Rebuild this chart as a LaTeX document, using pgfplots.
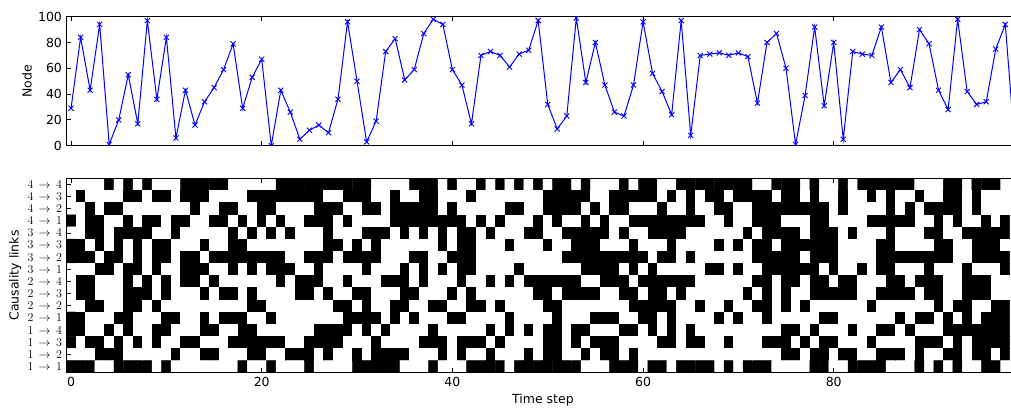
\documentclass[border=0pt]{standalone}
\usepackage[no-math]{fontspec}
\setmainfont{DejaVu Sans}
\usepackage{pgfplots}
\pgfplotsset{compat=1.18}

\newcommand{\lnk}[2]{$#1\,\rightarrow\,#2$}

\pgfplotsset{
  panel/.style={
    scale only axis,
    width=944.7pt,
    xmin=-0.5, xmax=98.6,
    axis x line=box, axis y line=left,
    axis line style={-, line width=1pt, black},
    tick align=inside, major tick length=4.5pt,
    tick style={black, line width=0.8pt},
    xtick={0,20,40,60,80},
    tick label style={font=\fontsize{12.5}{15}\selectfont},
    label style={font=\fontsize{12.5}{15}\selectfont},
    /pgf/number format/assume math mode=true,
  },
}

\begin{document}
\fontsize{12.5}{15}\selectfont
\begin{tikzpicture}
% node sequence over time
\begin{axis}[panel,
  at={(0,0)}, anchor=south west,
  height=129pt,
  ymin=0, ymax=100,
  ytick={0,20,40,60,80,100},
  xticklabels={},
  ylabel={Node},
  ylabel style={at={(axis description cs:0,0.5)}, anchor=center, yshift=39.3pt},
  clip marker paths=true,
]
\addplot[blue, line width=1pt, mark=x, mark size=3.6pt,
  mark options={solid, line width=0.9pt}] coordinates {
(0,29) (1,84) (2,43) (3,94) (4,1) (5,20) (6,55) (7,17) (8,97) (9,36)
(10,84) (11,6) (12,43) (13,16) (14,34) (15,45) (16,59) (17,79) (18,29) (19,53)
(20,67) (21,0) (22,43) (23,26) (24,5) (25,12) (26,16) (27,10) (28,36) (29,96)
(30,50) (31,3) (32,19) (33,73) (34,83) (35,51) (36,59) (37,87) (38,98) (39,94)
(40,59) (41,47) (42,17) (43,70) (44,73) (45,70) (46,61) (47,71) (48,74) (49,97)
(50,32) (51,13) (52,23) (53,99) (54,49) (55,80) (56,47) (57,26) (58,23) (59,47)
(60,96) (61,56) (62,42) (63,24) (64,97) (65,8) (66,70) (67,71) (68,72) (69,70)
(70,72) (71,69) (72,33) (73,80) (74,87) (75,60) (76,1) (77,39) (78,92) (79,31)
(80,80) (81,5) (82,73) (83,71) (84,70) (85,92) (86,49) (87,59) (88,45) (89,90)
(90,79) (91,43) (92,28) (93,98) (94,42) (95,32) (96,34) (97,75) (98,94) (99,0)
};
\end{axis}

% active causality links: one row per link, one column per time step
\begin{axis}[panel,
  at={(0,-32.6pt)}, anchor=north west,
  height=194.4pt,
  ymin=-0.5, ymax=15.5, y dir=reverse,
  axis on top,
  ytick={0,...,15},
  yticklabels={\lnk44,\lnk43,\lnk42,\lnk41,\lnk34,\lnk33,\lnk32,\lnk31,
    \lnk24,\lnk23,\lnk22,\lnk21,\lnk14,\lnk13,\lnk12,\lnk11},
  colormap={bw}{color=(white) color=(black)},
  point meta min=0, point meta max=1,
  xlabel={Time step},
  xlabel style={at={(axis description cs:0.5045,0)}, anchor=center, yshift=-27.3pt},
  ylabel={Causality links},
  ylabel style={at={(axis description cs:0,0.5)}, anchor=center, yshift=51pt},
]
\addplot[matrix plot*, mesh/cols=100, mesh/rows=16, point meta=explicit]
  table[header=false, row sep=\\, meta index=0,
    x expr={\coordindex-100*floor((\coordindex+0.5)/100)},
    y expr={floor((\coordindex+0.5)/100)}] {
0\\0\\0\\0\\1\\0\\1\\0\\1\\0\\ 0\\0\\1\\1\\1\\1\\1\\0\\0\\0\\ 0\\0\\1\\1\\1\\1\\1\\1\\1\\1\\ 1\\1\\0\\0\\0\\0\\1\\1\\1\\0\\ 1\\0\\0\\1\\0\\1\\0\\1\\0\\1\\ 0\\1\\1\\0\\1\\0\\0\\0\\1\\0\\ 1\\1\\0\\0\\1\\1\\1\\1\\1\\1\\ 1\\1\\0\\0\\1\\1\\1\\0\\1\\0\\ 0\\1\\0\\1\\1\\1\\1\\1\\1\\0\\ 0\\0\\1\\1\\0\\1\\1\\1\\0\\0\\
0\\1\\0\\0\\0\\0\\1\\1\\0\\1\\ 1\\0\\1\\1\\1\\0\\0\\0\\0\\1\\ 1\\1\\1\\1\\1\\1\\1\\0\\0\\1\\ 1\\1\\0\\0\\1\\0\\0\\1\\1\\0\\ 0\\0\\1\\0\\0\\0\\0\\0\\0\\0\\ 1\\1\\1\\1\\1\\0\\0\\1\\1\\1\\ 1\\1\\0\\1\\0\\1\\0\\1\\1\\0\\ 1\\1\\1\\1\\0\\1\\1\\0\\1\\0\\ 0\\1\\0\\0\\1\\0\\1\\0\\0\\1\\ 0\\0\\1\\1\\0\\1\\0\\0\\0\\0\\
0\\0\\1\\0\\1\\1\\0\\0\\0\\0\\ 0\\0\\0\\1\\0\\0\\1\\1\\0\\0\\ 1\\1\\0\\0\\0\\0\\1\\1\\1\\0\\ 0\\1\\1\\0\\1\\1\\1\\1\\1\\0\\ 1\\0\\0\\0\\0\\0\\1\\1\\0\\0\\ 1\\1\\1\\1\\0\\1\\0\\1\\1\\0\\ 0\\0\\1\\0\\0\\1\\0\\0\\1\\1\\ 0\\0\\1\\1\\1\\1\\1\\1\\1\\1\\ 0\\1\\0\\0\\0\\0\\1\\0\\1\\0\\ 1\\1\\1\\1\\0\\1\\0\\0\\0\\0\\
1\\0\\1\\1\\0\\0\\1\\0\\1\\1\\ 0\\1\\1\\0\\0\\1\\1\\0\\1\\0\\ 1\\0\\1\\0\\0\\1\\1\\1\\0\\1\\ 0\\0\\0\\0\\1\\1\\1\\1\\1\\1\\ 1\\1\\0\\1\\0\\1\\0\\0\\0\\1\\ 0\\1\\0\\0\\1\\0\\1\\0\\0\\1\\ 1\\1\\1\\1\\1\\1\\1\\0\\0\\1\\ 0\\0\\1\\1\\1\\0\\0\\0\\1\\1\\ 0\\0\\0\\0\\1\\1\\1\\1\\1\\0\\ 0\\1\\0\\1\\0\\0\\1\\0\\1\\0\\
0\\0\\1\\1\\0\\1\\1\\1\\1\\0\\ 0\\1\\0\\0\\0\\0\\0\\1\\0\\1\\ 0\\1\\0\\1\\0\\0\\0\\1\\0\\0\\ 0\\1\\1\\1\\0\\1\\0\\1\\0\\1\\ 0\\1\\1\\0\\1\\0\\0\\0\\1\\1\\ 0\\0\\1\\1\\1\\1\\1\\0\\1\\0\\ 0\\1\\1\\1\\1\\0\\0\\0\\0\\0\\ 0\\1\\0\\1\\1\\1\\1\\0\\1\\1\\ 1\\0\\1\\0\\0\\0\\1\\0\\0\\0\\ 1\\1\\0\\0\\1\\1\\1\\1\\1\\0\\
1\\1\\0\\1\\0\\1\\0\\1\\0\\1\\ 1\\0\\0\\0\\1\\0\\0\\1\\1\\0\\ 0\\0\\0\\0\\0\\0\\0\\1\\1\\0\\ 1\\0\\1\\0\\0\\0\\0\\0\\0\\1\\ 0\\1\\1\\0\\0\\0\\1\\0\\0\\0\\ 1\\0\\0\\1\\1\\1\\0\\0\\0\\1\\ 0\\0\\0\\1\\0\\0\\0\\0\\1\\0\\ 1\\0\\1\\1\\0\\1\\1\\1\\1\\1\\ 1\\0\\0\\0\\0\\1\\1\\0\\0\\0\\ 0\\1\\1\\0\\0\\1\\1\\1\\0\\0\\
1\\1\\1\\0\\1\\1\\0\\1\\0\\1\\ 1\\0\\1\\1\\0\\1\\1\\1\\1\\1\\ 1\\1\\1\\0\\0\\1\\1\\1\\0\\1\\ 1\\1\\1\\0\\0\\0\\1\\1\\0\\0\\ 1\\1\\1\\0\\0\\0\\0\\0\\0\\0\\ 0\\0\\1\\1\\1\\1\\1\\1\\1\\1\\ 1\\0\\1\\1\\0\\1\\0\\0\\0\\0\\ 0\\0\\1\\1\\1\\1\\1\\0\\1\\1\\ 1\\0\\0\\0\\0\\1\\1\\1\\1\\1\\ 1\\1\\1\\0\\0\\1\\1\\1\\1\\0\\
0\\0\\0\\1\\1\\0\\1\\1\\0\\1\\ 0\\0\\1\\1\\1\\0\\0\\1\\0\\1\\ 0\\1\\1\\1\\0\\0\\1\\0\\0\\0\\ 0\\1\\0\\0\\0\\1\\0\\1\\0\\1\\ 0\\1\\1\\0\\0\\0\\0\\1\\0\\0\\ 0\\0\\0\\0\\1\\1\\1\\1\\0\\1\\ 0\\1\\0\\0\\0\\0\\0\\1\\1\\0\\ 1\\0\\0\\1\\1\\1\\1\\1\\1\\0\\ 1\\0\\0\\1\\0\\1\\1\\0\\0\\0\\ 1\\0\\0\\0\\1\\0\\0\\0\\1\\0\\
0\\1\\1\\0\\0\\0\\1\\0\\1\\0\\ 1\\0\\1\\1\\0\\1\\0\\0\\0\\0\\ 0\\0\\1\\0\\1\\1\\1\\0\\0\\1\\ 0\\0\\0\\1\\1\\1\\0\\1\\0\\0\\ 0\\1\\0\\0\\1\\0\\1\\0\\1\\1\\ 1\\1\\1\\1\\0\\0\\1\\1\\1\\0\\ 1\\1\\1\\1\\1\\1\\0\\0\\0\\0\\ 0\\0\\1\\1\\0\\1\\1\\0\\1\\1\\ 0\\1\\1\\0\\0\\0\\1\\1\\0\\1\\ 1\\1\\0\\0\\1\\1\\1\\0\\0\\0\\
0\\1\\1\\0\\0\\0\\1\\1\\1\\0\\ 1\\0\\0\\0\\1\\0\\1\\1\\0\\1\\ 0\\0\\0\\0\\1\\1\\0\\1\\0\\0\\ 1\\1\\0\\0\\0\\1\\1\\0\\0\\0\\ 1\\0\\1\\0\\0\\0\\0\\0\\0\\1\\ 1\\0\\1\\1\\1\\1\\0\\0\\1\\1\\ 0\\1\\1\\0\\1\\0\\0\\0\\0\\0\\ 0\\1\\0\\1\\0\\1\\0\\0\\1\\1\\ 1\\1\\1\\0\\0\\1\\1\\1\\1\\0\\ 1\\1\\0\\0\\1\\1\\1\\0\\0\\0\\
0\\0\\1\\1\\0\\0\\1\\1\\0\\1\\ 0\\0\\0\\0\\0\\0\\0\\0\\0\\1\\ 1\\0\\0\\0\\0\\0\\0\\0\\1\\1\\ 0\\1\\0\\0\\1\\1\\0\\0\\1\\1\\ 0\\0\\1\\1\\0\\1\\0\\0\\0\\0\\ 1\\1\\0\\0\\0\\0\\0\\0\\0\\1\\ 1\\1\\1\\1\\0\\0\\1\\0\\0\\1\\ 0\\0\\1\\1\\0\\1\\0\\1\\0\\0\\ 0\\0\\0\\0\\1\\0\\0\\0\\0\\0\\ 0\\1\\0\\1\\1\\0\\0\\1\\1\\0\\
1\\1\\0\\0\\0\\1\\1\\0\\0\\0\\ 1\\1\\0\\0\\1\\0\\1\\1\\1\\0\\ 0\\1\\0\\0\\0\\0\\0\\0\\0\\1\\ 1\\1\\1\\0\\1\\0\\1\\0\\0\\0\\ 1\\1\\0\\0\\0\\0\\1\\0\\0\\0\\ 0\\1\\0\\0\\0\\1\\1\\1\\0\\0\\ 1\\1\\0\\1\\0\\0\\0\\0\\1\\0\\ 1\\0\\0\\1\\0\\0\\0\\0\\0\\1\\ 1\\0\\0\\0\\0\\0\\0\\1\\0\\1\\ 1\\0\\1\\0\\1\\0\\1\\1\\1\\0\\
1\\1\\0\\0\\1\\0\\1\\0\\0\\1\\ 1\\0\\0\\0\\1\\1\\0\\0\\1\\1\\ 0\\0\\0\\0\\0\\0\\1\\1\\1\\1\\ 0\\1\\0\\1\\0\\0\\0\\0\\1\\0\\ 0\\0\\0\\0\\1\\0\\1\\0\\1\\0\\ 1\\1\\0\\1\\1\\0\\0\\0\\1\\1\\ 0\\1\\0\\1\\0\\1\\0\\0\\0\\0\\ 0\\0\\0\\0\\0\\1\\1\\0\\1\\0\\ 0\\0\\1\\0\\0\\1\\1\\0\\1\\0\\ 0\\0\\1\\1\\1\\1\\1\\1\\1\\0\\
1\\0\\1\\1\\0\\1\\0\\1\\0\\1\\ 0\\0\\1\\1\\0\\0\\0\\1\\1\\1\\ 1\\1\\1\\0\\0\\1\\1\\1\\1\\0\\ 0\\0\\1\\0\\0\\0\\0\\1\\1\\1\\ 0\\1\\1\\1\\0\\1\\0\\0\\0\\0\\ 1\\1\\0\\1\\0\\1\\1\\1\\0\\0\\ 0\\0\\1\\1\\0\\1\\1\\0\\0\\1\\ 0\\0\\0\\1\\1\\1\\0\\1\\0\\1\\ 1\\0\\0\\0\\1\\0\\0\\0\\0\\1\\ 1\\1\\0\\1\\0\\1\\1\\1\\1\\0\\
0\\0\\0\\1\\1\\1\\0\\0\\0\\0\\ 0\\1\\0\\0\\1\\1\\0\\0\\0\\1\\ 1\\0\\0\\1\\1\\1\\0\\1\\0\\0\\ 1\\0\\1\\1\\1\\1\\0\\0\\0\\1\\ 0\\1\\0\\0\\1\\0\\0\\0\\1\\0\\ 1\\1\\0\\0\\1\\0\\1\\1\\0\\1\\ 0\\0\\0\\0\\0\\0\\0\\0\\0\\0\\ 0\\0\\0\\0\\0\\1\\1\\0\\1\\1\\ 0\\1\\1\\0\\0\\1\\1\\1\\0\\1\\ 0\\0\\1\\1\\0\\1\\1\\0\\1\\0\\
1\\1\\1\\0\\0\\1\\1\\1\\1\\0\\ 1\\0\\0\\0\\0\\0\\0\\0\\1\\0\\ 0\\1\\0\\0\\0\\1\\0\\0\\0\\0\\ 1\\1\\1\\1\\1\\0\\0\\0\\1\\0\\ 0\\0\\1\\1\\1\\1\\0\\1\\1\\1\\ 1\\1\\1\\1\\0\\0\\0\\1\\1\\1\\ 0\\1\\1\\0\\1\\1\\1\\1\\0\\1\\ 0\\1\\1\\1\\0\\0\\0\\0\\1\\1\\ 0\\0\\1\\1\\1\\1\\0\\0\\0\\1\\ 0\\1\\0\\1\\0\\0\\1\\1\\0\\0\\
};
\end{axis}
\pgfresetboundingbox
\path[use as bounding box] (-66.3pt,-263.3pt) rectangle (944.7pt,145.7pt);
\end{tikzpicture}
\end{document}
